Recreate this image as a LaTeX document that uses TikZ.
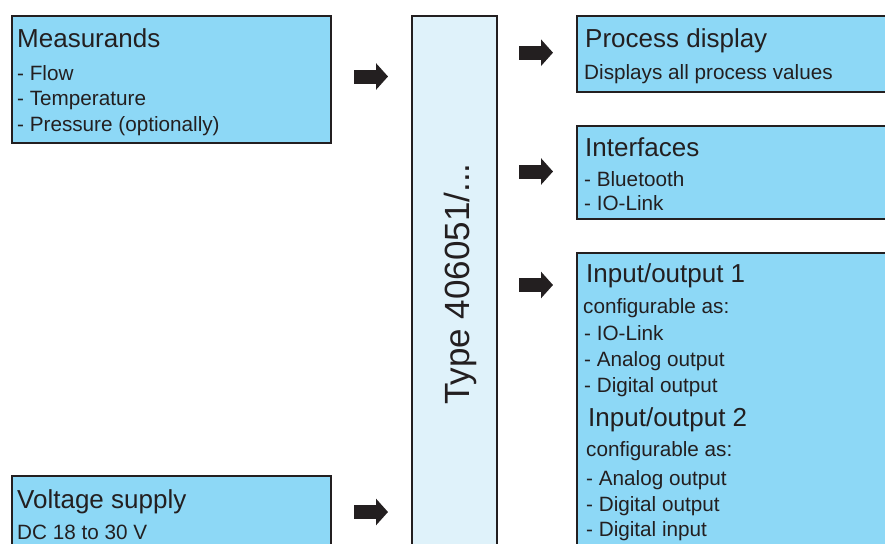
\documentclass[tikz,border=0pt]{standalone}
\usepackage{fontspec}
\setmainfont{Liberation Sans}
\usetikzlibrary{arrows.meta}
\definecolor{boxblue}{HTML}{8DD8F6}
\definecolor{typeblue}{HTML}{DFF2FA}
\definecolor{inkdark}{HTML}{231F20}
\tikzset{
  box/.style={draw=inkdark, line width=1.7pt, anchor=north west, inner sep=0pt},
  head/.style={font=\fontsize{26}{30}\selectfont, text=inkdark, anchor=base west, inner sep=0pt},
  item/.style={font=\fontsize{20.7}{25}\selectfont, text=inkdark, anchor=base west, inner sep=0pt},
  blockarrow/.style={draw=inkdark, line width=14pt, -{Triangle[length=12pt,width=26pt]}}
}
\begin{document}
\begin{tikzpicture}[x=1pt,y=-1pt]
\useasboundingbox (0,0) rectangle (885,543);
\clip (0,0) rectangle (885,543);

% input side
\node[box, fill=boxblue, minimum width=319pt, minimum height=127pt] (meas) at (11,15) {};
\node[head] (measT) at (17,48) {Measurands};
\node[item] (meas1) at (17,80) {- Flow};
\node[item] (meas2) at (17,105.5) {- Temperature};
\node[item] (meas3) at (17,131) {- Pressure (optionally)};

\node[box, fill=boxblue, minimum width=319pt, minimum height=120pt] (volt) at (11,475) {};
\node[head] (voltT) at (17,508) {Voltage supply};
\node[item] (volt1) at (17,539) {DC 18 to 30 V};

% device
\node[box, fill=typeblue, minimum width=85pt, minimum height=600pt] (type) at (411,15) {};
\node[font=\fontsize{35}{40}\selectfont, text=inkdark, rotate=90, inner sep=0pt] (typeT) at (460,284) {Type 406051/...};

% output side
\node[box, fill=boxblue, minimum width=350pt, minimum height=76pt] (proc) at (576,15) {};
\node[head] (procT) at (585,48) {Process display};
\node[item] (proc1) at (584,79) {Displays all process values};

\node[box, fill=boxblue, minimum width=350pt, minimum height=93pt] (intf) at (576,125) {};
\node[head] (intfT) at (585,156) {Interfaces};
\node[item] (intf1) at (584,186) {- Bluetooth};
\node[item] (intf2) at (584,210) {- IO-Link};

\node[box, fill=boxblue, minimum width=350pt, minimum height=400pt] (io) at (576,252) {};
\node[head] (ioA) at (586,282) {Input/output 1};
\node[item] (ioA1) at (583,313) {configurable as:};
\node[item] (ioA2) at (584,340) {- IO-Link};
\node[item] (ioA3) at (584,366) {- Analog output};
\node[item] (ioA4) at (584,392) {- Digital output};
\node[head] (ioB) at (588,426) {Input/output 2};
\node[item] (ioB1) at (586,456) {configurable as:};
\node[item] (ioB2) at (586,485) {- Analog output};
\node[item] (ioB3) at (586,511) {- Digital output};
\node[item] (ioB4) at (586,536) {- Digital input};

% arrows
\coordinate (am1) at (354,76.5);  \coordinate (am2) at (388,76.5);
\coordinate (av1) at (354,512);   \coordinate (av2) at (388,512);
\coordinate (ap1) at (519,52.7);  \coordinate (ap2) at (553,52.7);
\coordinate (ai1) at (519,171.5); \coordinate (ai2) at (553,171.5);
\coordinate (ao1) at (519,285);   \coordinate (ao2) at (553,285);
\draw[blockarrow] (am1) -- (am2);
\draw[blockarrow] (av1) -- (av2);
\draw[blockarrow] (ap1) -- (ap2);
\draw[blockarrow] (ai1) -- (ai2);
\draw[blockarrow] (ao1) -- (ao2);
\end{tikzpicture}
\end{document}
